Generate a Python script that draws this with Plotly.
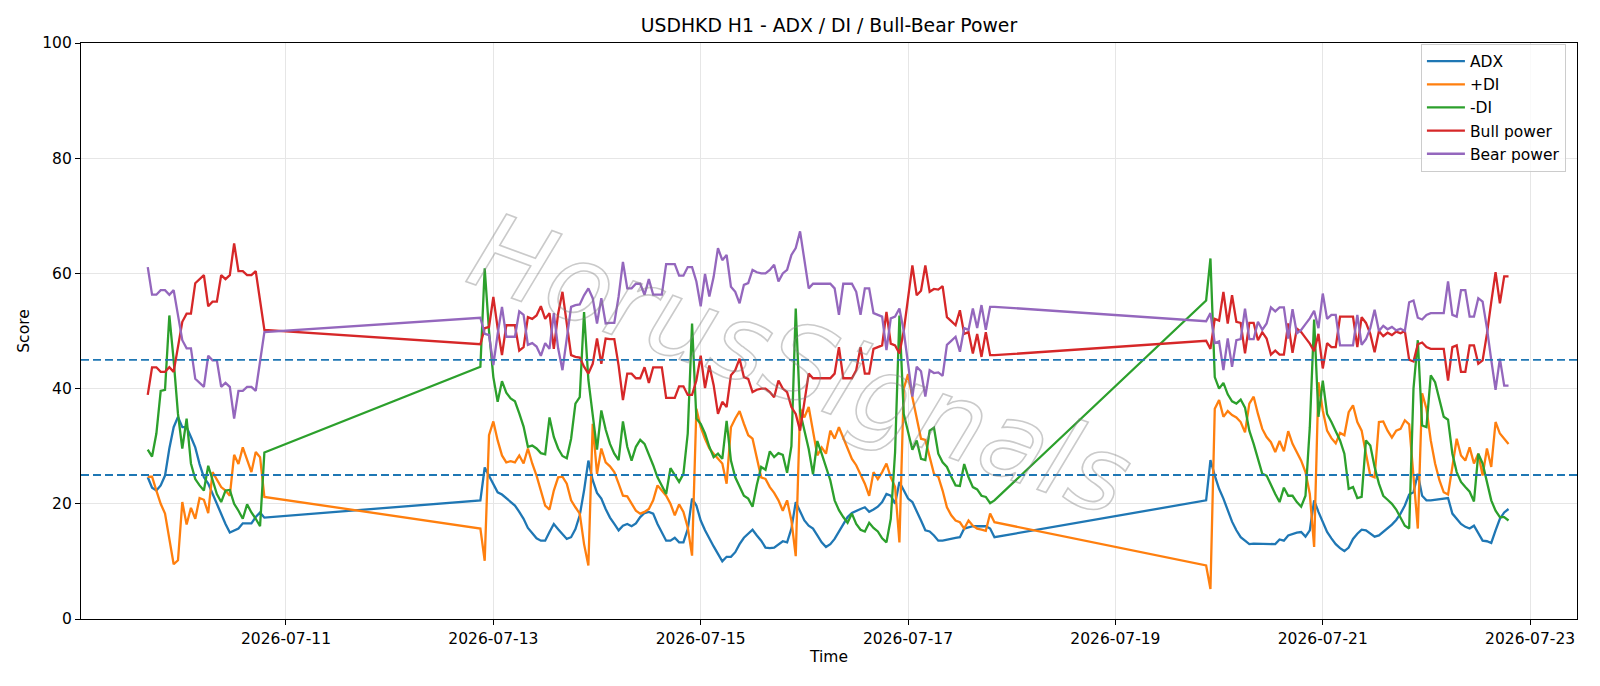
import pandas as pd
import plotly.graph_objects as go

# ---- time axis (hourly, three trading blocks) ----
seg_a = pd.date_range("2026-07-09 16:00", "2026-07-10 19:00", freq="h")
seg_b = pd.date_range("2026-07-12 21:00", "2026-07-17 20:00", freq="h")
seg_c = pd.date_range("2026-07-19 21:00", "2026-07-22 19:00", freq="h")
times = list(seg_a) + list(seg_b) + list(seg_c)

# ---- ADX ----
adx_a = [24.6, 22.8, 22.3, 23.2, 24.9, 29.6, 33.3, 35.1, 33.3, 33.3, 31.6, 29.8, 26.9, 24.6,
         23.5, 21.7, 20.0, 18.3, 16.5, 15.0, 15.4, 15.7, 16.6, 16.6, 16.6, 17.7, 18.5, 17.6]
adx_b = [20.6, 26.3, 24.9, 23.5, 22.0, 21.6, 21.0, 20.4, 19.7, 18.6,
         17.4, 15.8, 14.8, 14.0, 13.6, 13.6, 15.1, 16.5, 15.6, 14.8,
         13.9, 14.2, 15.6, 18.0, 22.3, 27.5, 24.1, 21.9, 20.9, 19.1,
         17.6, 16.5, 15.4, 16.2, 16.5, 16.1, 16.6, 17.7, 18.4, 18.6,
         18.3, 16.5, 15.1, 13.6, 13.6, 14.1, 13.3, 13.3, 15.6, 20.9,
         19.7, 17.1, 15.4, 13.9, 12.6, 11.3, 10.0, 10.8, 10.8, 11.6,
         13.0, 14.1, 14.8, 15.5, 14.5, 13.6, 12.4, 12.3, 12.4, 12.9,
         13.5, 13.3, 15.7, 20.3, 18.6, 17.1, 16.2, 15.7, 14.5, 13.3,
         12.5, 13.0, 13.9, 15.1, 16.5, 17.7, 18.4, 18.8, 19.1, 19.4,
         18.6, 19.0, 19.5, 20.3, 21.7, 21.4, 20.0, 23.8, 22.3, 20.9,
         20.3, 18.8, 17.1, 15.4, 15.2, 14.5, 13.6, 13.6, 13.8, 13.9,
         14.1, 14.2, 15.7, 15.9, 16.1, 16.1, 16.1, 16.1, 15.7, 14.2]
adx_c = [20.6, 27.6, 24.9, 22.6, 20.9, 18.8, 16.9, 15.4, 14.2, 13.6,
         13.0, 13.1, 13.1, 13.1, 13.0, 13.0, 13.0, 13.8, 13.6, 14.5,
         14.8, 15.0, 15.1, 14.3, 15.4, 20.6, 18.6, 16.8, 15.1, 14.0,
         13.0, 12.3, 11.8, 12.4, 13.9, 14.8, 15.5, 15.4, 14.8, 14.3,
         14.5, 15.1, 15.8, 16.4, 17.2, 18.3, 19.7, 21.6, 22.0, 25.2,
         21.4, 20.6, 20.6, 20.7, 20.7, 20.9, 21.0, 18.3, 17.4, 16.5,
         16.0, 15.7, 16.2, 14.8, 13.6, 13.5, 13.2, 15.4, 17.4, 18.5, 19.1]

# ---- +DI ----
pdi_a = [24.7, 24.7, 22.3, 20.0, 18.3, 13.6, 9.5, 10.2, 20.3, 16.4, 19.3, 17.4, 21.0, 20.7,
         18.4, 25.5, 24.1, 22.9, 22.3, 21.4, 28.5, 26.9, 29.8, 27.5, 25.5, 29.0, 28.1, 21.2]
pdi_b = [15.7, 10.1, 31.9, 34.3, 31.0, 28.4, 27.2, 27.4, 27.2, 28.4,
         27.0, 29.6, 27.0, 24.9, 22.3, 19.7, 19.0, 22.3, 24.6, 24.7,
         23.5, 20.6, 19.4, 18.3, 13.0, 9.3, 33.9, 25.2, 29.6, 27.2,
         26.5, 25.5, 23.5, 21.4, 21.3, 20.0, 18.8, 18.3, 18.6, 19.1,
         20.6, 23.2, 22.3, 21.4, 20.0, 18.0, 19.9, 18.6, 15.9, 11.0,
         36.5, 33.3, 31.3, 29.6, 28.7, 27.8, 27.0, 23.5, 33.3, 34.8,
         36.1, 33.9, 31.9, 31.3, 28.1, 24.6, 24.3, 22.9, 21.9, 20.6,
         18.8, 20.6, 17.1, 10.9, 36.5, 35.0, 36.8, 32.2, 28.4, 29.8,
         28.7, 32.7, 31.3, 33.3, 31.5, 29.8, 27.8, 26.7, 25.2, 23.5,
         21.4, 25.5, 24.3, 25.5, 27.0, 24.6, 22.9, 13.3, 40.0, 42.5,
         38.5, 35.0, 31.3, 31.1, 28.1, 25.2, 24.7, 22.3, 19.4, 18.0,
         17.1, 16.8, 15.7, 17.1, 16.2, 15.7, 15.5, 15.3, 18.3, 16.8]
pdi_c = [9.3, 5.2, 36.5, 38.0, 35.1, 36.1, 35.4, 35.0, 34.2, 32.4,
         37.4, 38.6, 35.6, 33.0, 31.6, 30.7, 29.0, 30.9, 29.1, 32.6,
         30.4, 29.0, 27.5, 25.5, 21.7, 12.5, 41.1, 36.2, 32.7, 31.4,
         30.5, 32.3, 31.9, 35.9, 37.1, 34.2, 32.7, 28.7, 24.9, 24.6,
         34.2, 34.3, 32.7, 31.5, 32.7, 33.0, 34.5, 33.8, 24.6, 15.7,
         39.2, 36.5, 31.0, 27.0, 24.1, 22.0, 21.6, 26.1, 31.3, 28.4,
         27.5, 29.8, 27.0, 28.7, 24.9, 29.6, 26.4, 34.2, 32.2, 31.3, 30.4]

# ---- -DI ----
mdi_a = [29.4, 28.2, 32.2, 39.6, 39.8, 52.7, 44.9, 35.6, 29.6, 34.8, 27.0, 24.3, 23.2, 22.3,
         26.6, 24.0, 21.7, 20.3, 22.3, 22.4, 20.0, 18.8, 17.4, 19.9, 18.5, 17.4, 16.1, 28.9]
mdi_b = [43.8, 60.9, 50.0, 42.0, 37.7, 41.3, 39.3, 38.3, 37.8, 35.7,
         33.4, 29.9, 30.1, 29.6, 28.8, 28.6, 35.0, 31.6, 29.6, 28.3,
         27.9, 31.3, 37.4, 38.5, 53.3, 41.5, 35.6, 29.4, 36.2, 32.9,
         30.4, 28.7, 27.6, 34.3, 29.9, 27.5, 29.9, 31.1, 30.4, 28.7,
         26.7, 24.6, 23.2, 21.7, 26.2, 25.1, 23.8, 25.2, 32.2, 51.3,
         34.8, 33.9, 32.2, 29.9, 28.1, 28.7, 27.8, 34.4, 27.5, 24.6,
         22.9, 21.4, 20.9, 19.5, 23.3, 26.4, 25.9, 29.1, 28.1, 28.8,
         28.5, 25.4, 30.0, 53.9, 36.0, 32.5, 29.5, 25.1, 30.9, 28.7,
         26.4, 24.1, 20.6, 18.9, 17.7, 16.7, 18.3, 16.5, 15.5, 15.2,
         16.7, 15.8, 15.2, 14.0, 13.3, 17.4, 29.0, 52.7, 35.6, 32.2,
         29.4, 31.0, 27.8, 27.6, 32.7, 33.2, 28.7, 27.2, 26.4, 24.7,
         23.2, 23.1, 26.9, 24.6, 22.9, 22.5, 21.4, 21.2, 20.1, 20.6]
mdi_c = [55.3, 62.6, 42.0, 40.0, 41.0, 39.0, 37.8, 37.4, 38.1, 36.7,
         32.7, 30.4, 27.8, 25.2, 24.9, 23.2, 21.7, 20.3, 22.8, 21.4,
         21.4, 20.3, 19.5, 21.4, 33.3, 52.0, 35.1, 41.4, 35.6, 34.2,
         32.7, 31.0, 28.7, 22.6, 22.9, 21.0, 21.2, 31.0, 30.1, 26.4,
         23.5, 21.4, 20.7, 20.0, 19.0, 17.7, 16.2, 15.7, 40.0, 48.4,
         33.6, 33.3, 42.3, 41.1, 38.0, 35.1, 34.6, 28.7, 25.5, 23.8,
         22.9, 22.1, 20.4, 28.7, 27.0, 23.5, 20.6, 18.8, 17.7, 17.7, 17.1]

# ---- Bull power ----
bull_a = [38.9, 43.7, 43.7, 42.9, 42.9, 43.7, 42.9, 47.0, 51.6, 53.0, 53.0, 58.3, 59.0, 59.7,
          54.3, 55.1, 55.1, 59.7, 59.0, 59.7, 65.2, 60.4, 60.4, 59.7, 59.7, 60.4, 55.3, 50.2]
bull_b = [47.7, 50.5, 50.7, 55.9, 50.5, 45.8, 51.0, 51.0, 51.0, 46.6,
          47.2, 52.4, 52.1, 52.7, 54.3, 52.1, 53.1, 46.9, 53.0, 56.8,
          51.3, 45.8, 45.5, 45.4, 43.8, 42.6, 44.3, 48.7, 44.3, 48.7,
          48.6, 48.6, 44.0, 38.0, 42.6, 42.6, 41.8, 41.8, 43.7, 41.0,
          43.7, 43.7, 43.7, 38.4, 38.4, 38.4, 40.4, 40.4, 38.9, 38.9,
          41.4, 45.7, 40.1, 44.0, 40.6, 35.6, 37.7, 36.8, 42.3, 43.2,
          45.2, 42.0, 41.7, 39.4, 39.8, 40.0, 40.0, 39.4, 38.5, 41.4,
          40.0, 39.4, 36.8, 35.6, 32.7, 38.0, 42.6, 41.8, 41.8, 41.8,
          41.8, 41.8, 42.6, 47.2, 41.8, 41.8, 41.8, 43.2, 47.2, 42.6,
          42.6, 46.9, 47.2, 47.5, 53.3, 47.8, 47.5, 46.1, 50.0, 56.0,
          61.4, 56.2, 57.0, 61.4, 56.8, 57.3, 57.2, 57.8, 52.4, 51.7,
          51.0, 53.6, 49.5, 49.8, 46.1, 49.5, 45.5, 49.8, 45.8, 45.8]
bull_c = [48.3, 46.9, 52.1, 51.8, 56.8, 51.3, 56.2, 51.6, 51.4, 46.1,
          51.4, 51.4, 48.4, 49.8, 48.7, 45.9, 46.6, 45.9, 45.9, 51.3,
          46.2, 50.4, 49.8, 48.8, 47.8, 46.5, 49.5, 43.5, 47.9, 47.2,
          47.2, 52.5, 52.5, 52.5, 52.5, 47.2, 52.4, 51.4, 49.5, 46.3,
          50.0, 49.1, 49.7, 49.3, 49.9, 49.6, 50.0, 45.0, 44.7, 47.7,
          48.0, 47.2, 46.9, 46.9, 46.9, 46.9, 41.4, 47.2, 47.5, 42.9,
          42.9, 47.5, 47.5, 44.3, 44.9, 49.5, 55.0, 60.2, 54.8, 59.5, 59.5]

# ---- Bear power ----
bear_a = [61.1, 56.3, 56.3, 57.1, 57.1, 56.3, 57.1, 53.0, 48.4, 47.0, 47.0, 41.7, 41.0, 40.3,
          45.7, 44.9, 44.9, 40.3, 41.0, 40.3, 34.8, 39.6, 39.6, 40.3, 40.3, 39.6, 44.7, 49.8]
bear_b = [52.3, 49.5, 49.3, 44.1, 49.5, 54.2, 49.0, 49.0, 49.0, 53.4,
          52.8, 47.6, 47.9, 47.3, 45.7, 47.9, 46.9, 53.1, 47.0, 43.2,
          48.7, 54.2, 54.5, 54.6, 56.2, 57.4, 55.7, 51.3, 55.7, 51.3,
          51.4, 51.4, 56.0, 62.0, 57.4, 57.4, 58.2, 58.2, 56.3, 59.0,
          56.3, 56.3, 56.3, 61.6, 61.6, 61.6, 59.6, 59.6, 61.1, 61.1,
          58.6, 54.3, 59.9, 56.0, 59.4, 64.4, 62.3, 63.2, 57.7, 56.8,
          54.8, 58.0, 58.3, 60.6, 60.2, 60.0, 60.0, 60.6, 61.5, 58.6,
          60.0, 60.6, 63.2, 64.4, 67.3, 62.0, 57.4, 58.2, 58.2, 58.2,
          58.2, 58.2, 57.4, 52.8, 58.2, 58.2, 58.2, 56.8, 52.8, 57.4,
          57.4, 53.1, 52.8, 52.5, 46.7, 52.2, 52.5, 53.9, 50.0, 44.0,
          38.6, 43.8, 43.0, 38.6, 43.2, 42.7, 42.8, 42.2, 47.6, 48.3,
          49.0, 46.4, 50.5, 50.2, 53.9, 50.5, 54.5, 50.2, 54.2, 54.2]
bear_c = [51.7, 53.1, 47.9, 48.2, 43.2, 48.7, 43.8, 48.4, 48.6, 53.9,
          48.6, 48.6, 51.6, 50.2, 51.3, 54.1, 53.4, 54.1, 54.1, 48.7,
          53.8, 49.6, 50.2, 51.2, 52.2, 53.5, 50.5, 56.5, 52.1, 52.8,
          52.8, 47.5, 47.5, 47.5, 47.5, 52.8, 47.6, 48.6, 50.5, 53.7,
          50.0, 50.9, 50.3, 50.7, 50.1, 50.4, 50.0, 55.0, 55.3, 52.3,
          52.0, 52.8, 53.1, 53.1, 53.1, 53.1, 58.6, 52.8, 52.5, 57.1,
          57.1, 52.5, 52.5, 55.7, 55.1, 50.5, 45.0, 39.8, 45.2, 40.5, 40.5]

ref_levels = [25, 45]
x_ticks = ["2026-07-11", "2026-07-13", "2026-07-15", "2026-07-17",
           "2026-07-19", "2026-07-21", "2026-07-23"]
y_ticks = [0, 20, 40, 60, 80, 100]

series = [
    ("ADX", adx_a + adx_b + adx_c, "#1f77b4"),
    ("+DI", pdi_a + pdi_b + pdi_c, "#ff7f0e"),
    ("-DI", mdi_a + mdi_b + mdi_c, "#2ca02c"),
    ("Bull power", bull_a + bull_b + bull_c, "#d62728"),
    ("Bear power", bear_a + bear_b + bear_c, "#9467bd"),
]

FONT = "DejaVu Sans"
fig = go.Figure()
for name, vals, col in series:
    assert len(vals) == len(times), (name, len(vals), len(times))
    fig.add_trace(go.Scatter(x=times, y=vals, mode="lines", name=name,
                             line=dict(color=col, width=2.3)))

for lv in ref_levels:
    fig.add_shape(type="line", xref="paper", x0=0, x1=1, yref="y", y0=lv, y1=lv,
                  line=dict(color="#1f77b4", width=1.8, dash="8px,4px"))

fig.add_annotation(
    xref="paper", yref="paper", x=0.481, y=0.442,
    text='<span style="fill:none;stroke:rgba(128,128,128,0.42);stroke-width:1.6px">HorusSignals</span>',
    showarrow=False, textangle=20,
    font=dict(family=FONT, size=106, style="italic", color="rgba(128,128,128,0.25)"),
    xanchor="center", yanchor="middle")

axis_common = dict(showline=True, linecolor="black", linewidth=1.2, mirror=True,
                   ticks="outside", ticklen=5, tickwidth=1.2, tickcolor="black",
                   showgrid=True, gridcolor="#e6e6e6", gridwidth=1.2, zeroline=False,
                   tickfont=dict(family=FONT, size=15.5, color="black"))

fig.update_layout(
    width=1600, height=686,
    margin=dict(l=81, r=23, t=43, b=67),
    paper_bgcolor="white", plot_bgcolor="white",
    font=dict(family=FONT, color="black"),
    title=dict(text="USDHKD H1 - ADX / DI / Bull-Bear Power", x=0.5, xref="paper",
               y=1 - 25.5 / 686, yref="container", xanchor="center", yanchor="middle",
               font=dict(family=FONT, size=18.8, color="black")),
    xaxis=dict(type="date", range=["2026-07-09 00:33", "2026-07-23 10:51"],
               tickvals=x_ticks, tickformat="%Y-%m-%d",
               title=dict(text="Time", font=dict(family=FONT, size=15.5), standoff=4),
               **axis_common),
    yaxis=dict(range=[0, 100], tickvals=y_ticks,
               title=dict(text="Score", font=dict(family=FONT, size=15.5), standoff=8),
               **axis_common),
    legend=dict(x=0.9926, y=0.999, xanchor="right", yanchor="top", itemwidth=38,
                bgcolor="rgba(255,255,255,0.8)", bordercolor="#cccccc", borderwidth=1,
                font=dict(family=FONT, size=15.5, color="black")),
    showlegend=True,
)

fig.write_html("out.html")
